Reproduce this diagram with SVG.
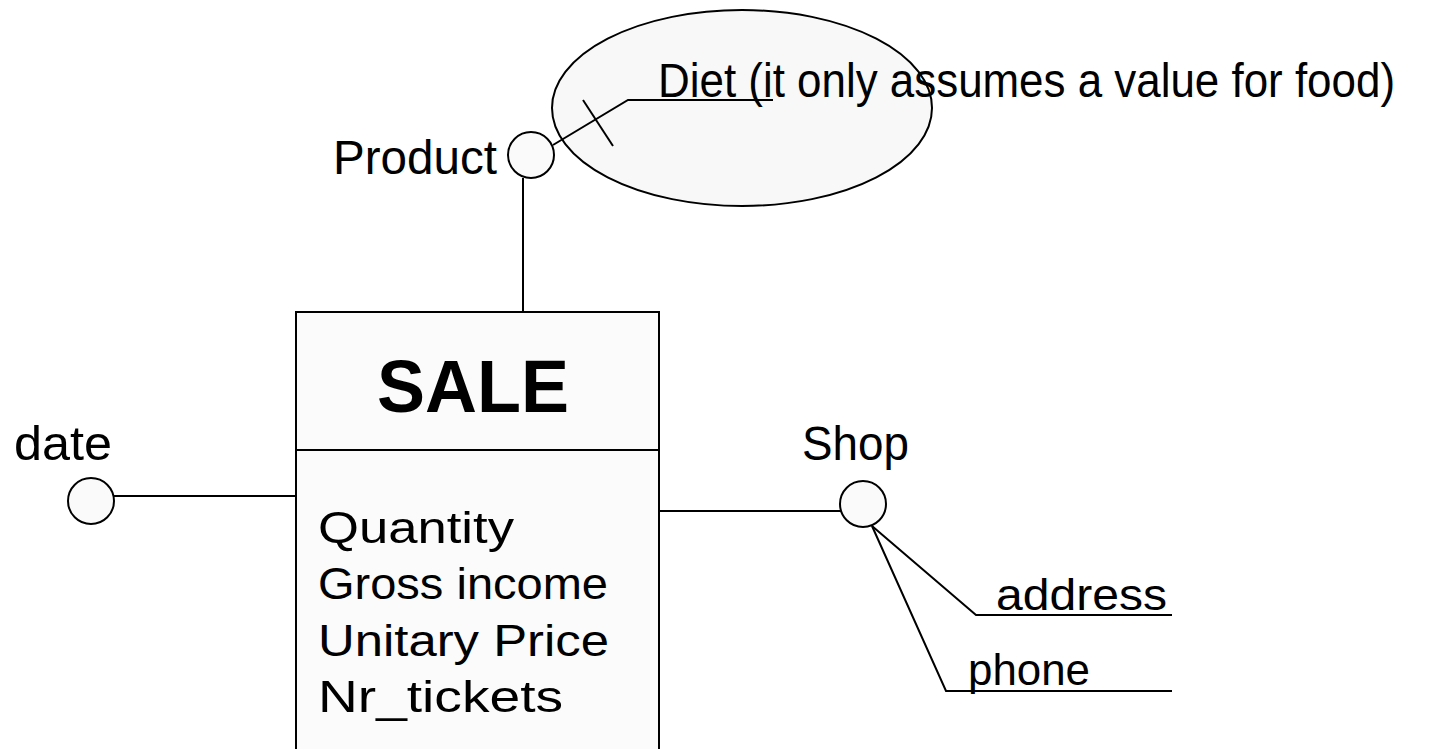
<svg xmlns="http://www.w3.org/2000/svg" width="1431" height="749" viewBox="0 0 1431 749">
  <style>
    .ln { stroke: #000; stroke-width: 2; fill: none; }
    .shape { stroke: #000; stroke-width: 2; }
    .lbl { font-family: "Liberation Sans", Arial, sans-serif; font-size: 48px; fill: #000; }
    .attr { font-family: "Liberation Sans", Arial, sans-serif; font-size: 44px; fill: #000; }
    .title { font-family: "Liberation Sans", Arial, sans-serif; font-size: 74px; font-weight: bold; fill: #000; }
  </style>
  <rect width="1431" height="749" fill="#ffffff"/>

  <!-- Diet optional-attribute region -->
  <g id="diet-region">
    <ellipse cx="742" cy="108" rx="190" ry="98" class="shape" fill="#f8f8f8"/>
  </g>

  <!-- connectors -->
  <g id="connectors">
    <line x1="523" y1="178" x2="523" y2="312" class="ln"/>
    <polyline points="553,145 628,100 773,100" class="ln"/>
    <line x1="583" y1="100" x2="613" y2="146" class="ln"/>
    <line x1="114" y1="496" x2="296" y2="496" class="ln"/>
    <line x1="659" y1="511" x2="841" y2="511" class="ln"/>
    <polyline points="872,526 976,615 1172,615" class="ln"/>
    <polyline points="872,526 946,691 1172,691" class="ln"/>
  </g>

  <!-- fact entity -->
  <g id="sale">
    <rect x="296" y="312" width="363" height="460" class="shape" fill="#fbfbfb"/>
    <line x1="296" y1="450" x2="659" y2="450" class="ln"/>
    <text x="377" y="412" class="title" textLength="192" lengthAdjust="spacingAndGlyphs">SALE</text>
    <text x="318" y="543" class="attr" textLength="196" lengthAdjust="spacingAndGlyphs">Quantity</text>
    <text x="318" y="599" class="attr" textLength="290" lengthAdjust="spacingAndGlyphs">Gross income</text>
    <text x="318" y="656" class="attr" textLength="291" lengthAdjust="spacingAndGlyphs">Unitary Price</text>
    <text x="318" y="712" class="attr" textLength="245" lengthAdjust="spacingAndGlyphs">Nr_tickets</text>
  </g>

  <!-- dimensions -->
  <g id="product">
    <circle cx="531" cy="155" r="23" class="shape" fill="#fafafa"/>
    <text x="333" y="174" class="lbl" textLength="164" lengthAdjust="spacingAndGlyphs">Product</text>
  </g>
  <g id="diet">
    <text x="658" y="97" class="lbl" textLength="737" lengthAdjust="spacingAndGlyphs">Diet (it only assumes a value for food)</text>
  </g>
  <g id="date">
    <circle cx="91" cy="501" r="23" class="shape" fill="#fafafa"/>
    <text x="14" y="460" class="lbl" textLength="98" lengthAdjust="spacingAndGlyphs">date</text>
  </g>
  <g id="shop">
    <circle cx="863" cy="504" r="23" class="shape" fill="#fafafa"/>
    <text x="802" y="460" class="lbl" textLength="107" lengthAdjust="spacingAndGlyphs">Shop</text>
  </g>
  <g id="address">
    <text x="996" y="610" class="attr" textLength="171" lengthAdjust="spacingAndGlyphs">address</text>
  </g>
  <g id="phone">
    <text x="968" y="685" class="attr" textLength="122" lengthAdjust="spacingAndGlyphs">phone</text>
  </g>
</svg>
